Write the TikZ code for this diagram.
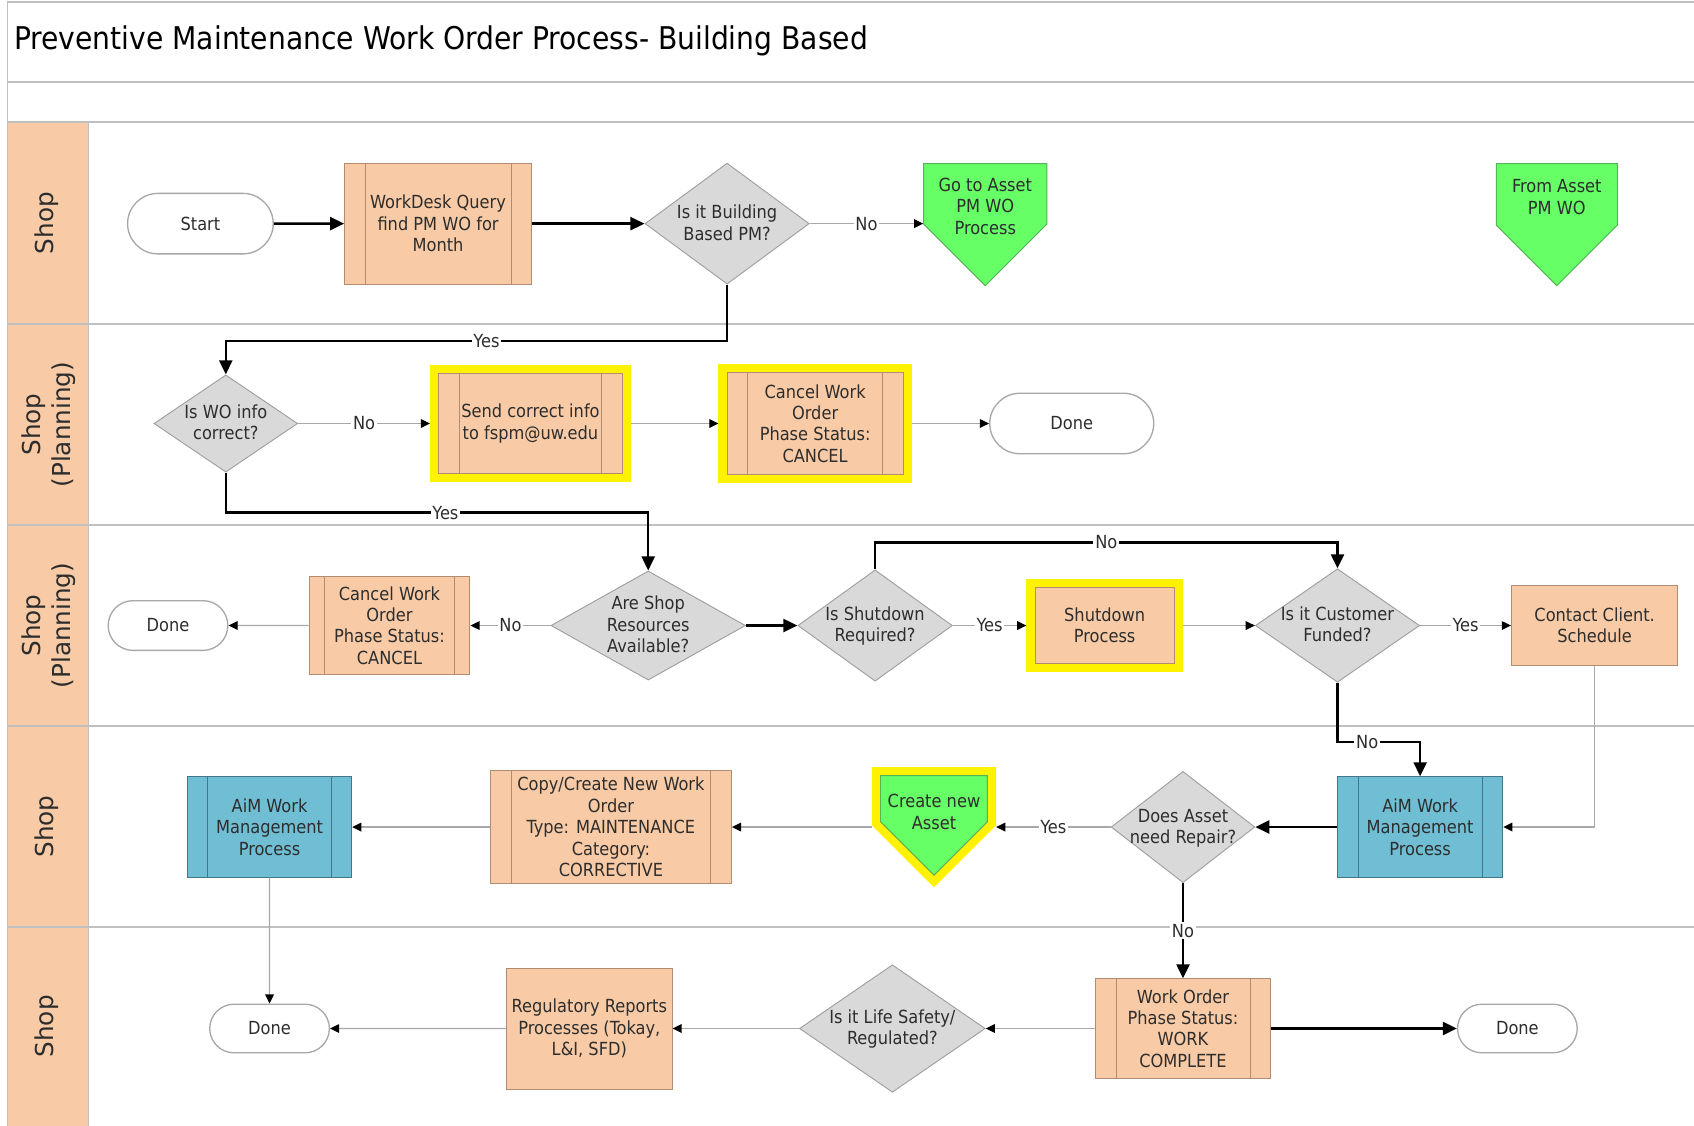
\documentclass[tikz,border=0pt]{standalone}
\usepackage{fontspec}
\setmainfont{DejaVu Sans Condensed}
\newfontfamily\lanefont{DejaVu Sans}
\usetikzlibrary{positioning, arrows.meta, shapes.geometric, shapes.misc, shapes.symbols}
\definecolor{peach}{RGB}{248,203,166}
\definecolor{umber}{RGB}{178,140,112}
\definecolor{ash}{RGB}{217,217,217}
\definecolor{pewter}{RGB}{160,160,160}
\definecolor{mint}{RGB}{102,255,102}
\definecolor{mintedge}{RGB}{86,178,86}
\definecolor{aimblue}{RGB}{112,190,212}
\definecolor{aimedge}{RGB}{66,118,136}
\definecolor{flag}{RGB}{255,242,0}
\definecolor{rulegray}{RGB}{192,192,192}
\definecolor{wire}{RGB}{168,168,168}
\definecolor{ink}{RGB}{45,45,45}

\newcommand{\boxfont}{\fontsize{9.5}{11.3}\selectfont}
% text that takes no room, so the shape keeps its given size
\newcommand{\qtext}[2][-3pt]{\smash{\makebox[0pt]{\raisebox{#1}{%
  \begin{tabular}{@{}c@{}}#2\end{tabular}}}}}
% the two side bars of a predefined process box
\newcommand{\sidebars}[2]{%
  \draw[#1] ([xshift=#2]path picture bounding box.north west)
         -- ([xshift=#2]path picture bounding box.south west)
            ([xshift=-#2]path picture bounding box.north east)
         -- ([xshift=-#2]path picture bounding box.south east);}

\begin{document}
\begin{tikzpicture}[font=\boxfont, text=ink,
    proc/.style={rectangle, draw=umber, fill=peach, line width=0.5pt, align=center, inner sep=2pt},
    sub/.style={proc, path picture={\sidebars{umber}{#1}}},
    sub/.default=0.38cm,
    aim/.style={proc, draw=aimedge, fill=aimblue, path picture={\sidebars{aimedge}{0.38cm}}},
    decision/.style={diamond, draw=pewter, fill=ash, line width=0.5pt, inner sep=0pt},
    term/.style={rounded rectangle, draw=wire, fill=white, line width=0.7pt},
    offpage/.style={signal, signal to=south, signal pointer angle=90, anchor=north,
                    draw=mintedge, fill=mint, line width=0.5pt, inner sep=0pt},
    hl/.style={preaction={draw=flag, line width=0.32cm}, outer sep=0.16cm},
    lane/.style={rotate=90, align=center, font=\lanefont\fontsize{13}{15.5}\selectfont},
    flow/.style={line width=1.3pt, -{Triangle[length=0.26cm,width=0.24cm]}},
    thin/.style={draw=wire, line width=0.7pt, -{Triangle[length=0.17cm,width=0.16cm,color=black]}},
    lbl/.style={fill=white, inner sep=1pt}]
  \useasboundingbox (0,0) rectangle (31.36,-20.84);

  % frame, title band and swim lanes
  \fill[peach] (0.14,-2.26) rectangle (1.64,-20.84);
  \draw[rulegray, line width=0.8pt] (31.36,-0.04) -- (0.14,-0.04) -- (0.14,-20.84);
  \draw[rulegray, line width=0.8pt] (1.64,-2.26) -- (1.64,-20.84);
  \foreach \y in {-1.52,-2.26,-6.00,-9.72,-13.44,-17.16}
    \draw[rulegray, line width=0.8pt] (0.14,\y) -- (31.36,\y);
  \node[anchor=west, text=black, font=\fontsize{16.5}{19}\selectfont] (title) at (0.14,-0.76)
       {Preventive Maintenance Work Order Process- Building Based};
  \node[lane] (lane1) at (0.86,-4.13) {Shop};
  \node[lane] (lane2) at (0.90,-7.86) {Shop\\(Planning)};
  \node[lane] (lane3) at (0.90,-11.58) {Shop\\(Planning)};
  \node[lane] (lane4) at (0.86,-15.30) {Shop};
  \node[lane] (lane5) at (0.86,-19.00) {Shop};

  % lane 1
  \node[term, minimum width=2.93cm, minimum height=1.12cm] (start) at (3.71,-4.14) {Start};
  \node[sub, minimum width=3.46cm, minimum height=2.24cm] (wdq) at (8.11,-4.14)
       {WorkDesk Query\\find PM WO for\\Month};
  \node[decision, minimum width=3.04cm, minimum height=2.24cm] (bldg) at (13.46,-4.14)
       {\qtext{Is it Building\\Based PM?}};
  \node[offpage, minimum width=2.28cm, minimum height=1.12cm] (goasset) at (18.24,-3.02)
       {\qtext[-10pt]{Go to Asset\\PM WO\\Process}};
  \node[offpage, minimum width=2.24cm, minimum height=1.14cm] (fromasset) at (28.82,-3.02)
       {\qtext[-4.7pt]{From Asset\\PM WO}};

  % lane 2
  \node[decision, minimum width=2.66cm, minimum height=1.80cm] (wo) at (4.18,-7.84)
       {\qtext{Is WO info\\correct?}};
  \node[sub, hl, minimum width=3.40cm, minimum height=1.86cm] (send) at (9.82,-7.84)
       {Send correct info\\to fspm@uw.edu};
  \node[sub, hl, minimum width=3.26cm, minimum height=1.88cm] (cancela) at (15.09,-7.84)
       {Cancel Work\\Order\\Phase Status:\\CANCEL};
  \node[term, minimum width=3.27cm, minimum height=1.12cm] (donea) at (19.84,-7.84) {Done};

  % lane 3
  \node[term, minimum width=2.45cm, minimum height=0.92cm] (doneb) at (3.11,-11.58) {Done};
  \node[sub=0.29cm, minimum width=2.98cm, minimum height=1.80cm] (cancelb) at (7.21,-11.58)
       {Cancel Work\\Order\\Phase Status:\\CANCEL};
  \node[decision, minimum width=3.60cm, minimum height=2.02cm] (res) at (12.00,-11.58)
       {\qtext{Are Shop\\Resources\\Available?}};
  \node[decision, minimum width=2.86cm, minimum height=2.06cm] (shut) at (16.20,-11.58)
       {\qtext{Is Shutdown\\Required?}};
  \node[proc, hl, minimum width=2.58cm, minimum height=1.40cm] (shutproc) at (20.45,-11.58)
       {Shutdown\\Process};
  \node[decision, minimum width=3.04cm, minimum height=2.10cm] (cust) at (24.76,-11.58)
       {\qtext{Is it Customer\\Funded?}};
  \node[proc, minimum width=3.08cm, minimum height=1.48cm] (contact) at (29.52,-11.58)
       {Contact Client.\\Schedule};

  % lane 4
  \node[aim, minimum width=3.04cm, minimum height=1.86cm] (aima) at (4.99,-15.31)
       {AiM Work\\Management\\Process};
  \node[sub, minimum width=4.46cm, minimum height=2.10cm] (copy) at (11.31,-15.31)
       {Copy/Create New Work\\Order\\Type: MAINTENANCE\\Category:\\CORRECTIVE};
  \node[offpage, hl, minimum width=1.98cm, minimum height=0.85cm] (newasset) at (17.29,-14.20)
       {\qtext[-10.4pt]{Create new\\Asset}};
  \node[decision, minimum width=2.66cm, minimum height=2.06cm] (repair) at (21.90,-15.31)
       {\qtext{Does Asset\\need Repair?}};
  \node[aim, minimum width=3.06cm, minimum height=1.86cm] (aimb) at (26.29,-15.31)
       {AiM Work\\Management\\Process};

  % lane 5
  \node[term, minimum width=2.45cm, minimum height=0.90cm] (donec) at (4.99,-19.04) {Done};
  \node[proc, minimum width=3.06cm, minimum height=2.24cm] (reg) at (10.91,-19.04)
       {Regulatory Reports\\Processes (Tokay,\\L\&I, SFD)};
  \node[decision, minimum width=3.44cm, minimum height=2.36cm] (life) at (16.52,-19.04)
       {\qtext{Is it Life Safety/\\Regulated?}};
  \node[sub, minimum width=3.24cm, minimum height=1.84cm] (wodone) at (21.90,-19.04)
       {Work Order\\Phase Status:\\WORK\\COMPLETE};
  \node[term, minimum width=2.45cm, minimum height=0.90cm] (doned) at (28.09,-19.04) {Done};

  % connectors
  \draw[flow] (start) -- (wdq);
  \draw[flow] (wdq) -- (bldg);
  \draw[thin] (bldg) -- node[lbl]{No} (bldg.east -| goasset.west);
  \draw[flow] (bldg.south) -- ++(0,-1.04) -| node[lbl, pos=0.24]{Yes} (wo.north);
  \draw[thin] (wo) -- node[lbl]{No} (send);
  \draw[thin] (send) -- (cancela);
  \draw[thin] (cancela) -- (donea);
  \draw[flow] (wo.south) -- ++(0,-0.74) -| node[lbl, pos=0.26]{Yes} (res.north);
  \draw[thin] (res) -- node[lbl]{No} (cancelb);
  \draw[thin] (cancelb) -- (doneb);
  \draw[flow] (res) -- (shut);
  \draw[thin] (shut) -- node[lbl]{Yes} (shutproc);
  \draw[thin] (shutproc) -- (cust);
  \draw[flow] (shut.north) -- ++(0,0.50) -| node[lbl, pos=0.25]{No} (cust.north);
  \draw[thin] (cust) -- node[lbl]{Yes} (contact);
  \draw[flow] (cust.south) -- ++(0,-1.10) -| node[lbl, pos=0.18]{No} (aimb.north);
  \draw[thin] (contact.south) |- (aimb.east);
  \draw[flow] (aimb) -- (repair);
  \draw[thin] (repair) -- node[lbl]{Yes} (repair.west -| newasset.east);
  \draw[thin] (copy.east -| newasset.west) -- (copy);
  \draw[thin] (copy) -- (aima);
  \draw[thin] (aima) -- (donec);
  \draw[flow] (repair) -- node[lbl]{No} (wodone);
  \draw[flow] (wodone) -- (doned);
  \draw[thin] (wodone) -- (life);
  \draw[thin] (life) -- (reg);
  \draw[thin] (reg) -- (donec);
\end{tikzpicture}
\end{document}
